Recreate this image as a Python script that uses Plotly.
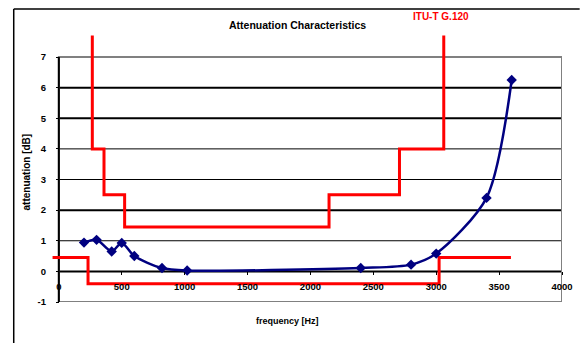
import plotly.graph_objects as go

# measured attenuation (frequency in Hz, attenuation in dB)
freq = [200, 300, 420, 500, 600, 820, 1020, 2400, 2800, 3000, 3400, 3600]
atten = [0.94, 1.03, 0.65, 0.93, 0.50, 0.11, 0.03, 0.11, 0.22, 0.58, 2.40, 6.25]

# ITU-T G.120 mask - upper limit
upper_f = [266, 266, 359, 359, 523, 523, 2148, 2148, 2708, 2708, 3060, 3060]
upper_v = [7.7, 4.0, 4.0, 2.5, 2.5, 1.45, 1.45, 2.5, 2.5, 4.0, 4.0, 7.7]

# ITU-T G.120 mask - lower limit
lower_f = [-50, 232, 232, 3023, 3023, 3594]
lower_v = [0.45, 0.45, -0.4, -0.4, 0.45, 0.45]

x_ticks = [0, 500, 1000, 1500, 2000, 2500, 3000, 3500, 4000]
y_ticks = [-1, 0, 1, 2, 3, 4, 5, 6, 7]
grid_vals = [0, 1, 2, 3, 4, 5, 6]
grid_widths = [2, 1, 2, 1, 1, 2, 2]

FONT = "Liberation Sans, Arial, sans-serif"

W, H = 585, 343
L, R, T, B = 51, 13, 34, 41
PW = W - L - R
PH = H - T - B


def px(xp):
    return (xp - L) / PW


def py(yp):
    return (H - B - yp) / PH


fig = go.Figure()

fig.add_trace(go.Scatter(x=upper_f, y=upper_v, mode="lines",
                         line=dict(color="#ff0000", width=3), hoverinfo="skip"))
fig.add_trace(go.Scatter(x=lower_f, y=lower_v, mode="lines",
                         line=dict(color="#ff0000", width=3), hoverinfo="skip"))
fig.add_trace(go.Scatter(x=freq, y=atten, mode="lines+markers",
                         line=dict(color="#000080", width=2.5, shape="spline", smoothing=0.8),
                         marker=dict(symbol="diamond", size=8, color="#000080")))

shapes = []
# gridlines
for v, w in zip(grid_vals, grid_widths):
    shapes.append(dict(type="line", xref="x", yref="y", x0=0, x1=4000, y0=v, y1=v,
                       line=dict(color="black", width=w), layer="below"))
# plot-area frame (gray)
shapes.append(dict(type="rect", xref="x", yref="y", x0=0, x1=4000, y0=-1, y1=7,
                   line=dict(color="#808080", width=2), layer="below"))
# y axis line
shapes.append(dict(type="line", xref="x", yref="y", x0=0, x1=0, y0=-1, y1=7,
                   line=dict(color="black", width=2), layer="below"))
# outer chart frame
shapes.append(dict(type="line", xref="paper", yref="paper", x0=px(13), x1=px(590),
                   y0=py(9), y1=py(9), line=dict(color="black", width=1.5)))
shapes.append(dict(type="line", xref="paper", yref="paper", x0=px(13), x1=px(13),
                   y0=py(9), y1=py(350), line=dict(color="black", width=1.5)))

ann_common = dict(xref="paper", yref="paper", showarrow=False,
                  xanchor="center", yanchor="middle")
annotations = [
    dict(text="<b>Attenuation Characteristics</b>", x=px(302), y=py(25),
         font=dict(family=FONT, size=10.5, color="black"), **ann_common),
    dict(text="<b>ITU-T G.120</b>", x=px(449), y=py(17),
         font=dict(family=FONT, size=10, color="#ff0000"), **ann_common),
    dict(text="<b>frequency [Hz]</b>", x=px(292), y=py(321),
         font=dict(family=FONT, size=9, color="black"), **ann_common),
    dict(text="<b>attenuation [dB]</b>", textangle=-90, x=px(26), y=py(172),
         font=dict(family=FONT, size=10, color="black"), **ann_common),
]

x0_range = -(59 - L) / ((572 - 59) / 4000)
y_top = 7 + (57 - T) / ((302 - 57) / 8)

fig.update_layout(
    width=W, height=H,
    margin=dict(l=L, r=R, t=T, b=B, pad=0),
    paper_bgcolor="white", plot_bgcolor="white",
    showlegend=False,
    shapes=shapes,
    annotations=annotations,
    xaxis=dict(range=[x0_range, 4000], tickvals=x_ticks, ticktext=[str(t) for t in x_ticks],
               showgrid=False, zeroline=False, showline=False,
               ticks="outside", ticklen=3, tickcolor="black", tickwidth=1,
               ticklabelstandoff=4,
               anchor="free", position=py(271),
               tickfont=dict(family=FONT, size=9.5, color="black", weight="bold")),
    yaxis=dict(range=[-1, y_top], tickvals=y_ticks, ticktext=[str(t) for t in y_ticks],
               showgrid=False, zeroline=False, showline=False,
               ticks="outside", ticklen=3, tickcolor="black", tickwidth=1,
               ticklabelstandoff=8,
               anchor="free", position=px(59),
               tickfont=dict(family=FONT, size=9.5, color="black", weight="bold")),
)

fig.write_html("out.html", config={"displayModeBar": False},
               post_script="document.body.style.margin='0px';")
